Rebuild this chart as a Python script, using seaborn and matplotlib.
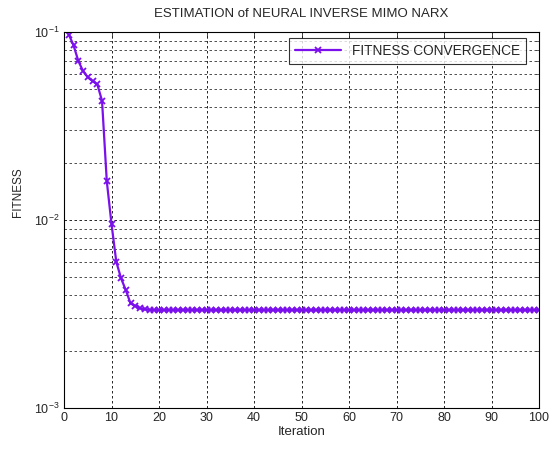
import numpy as np
import pandas as pd
import matplotlib
matplotlib.use('Agg')
import matplotlib.pyplot as plt
import seaborn as sns
from matplotlib.ticker import LogLocator, FixedLocator

sns.set_theme(style='white')
plt.rcParams['font.family'] = ['Liberation Sans', 'DejaVu Sans']
plt.rcParams['mathtext.fontset'] = 'custom'
plt.rcParams['mathtext.rm'] = 'Liberation Sans'
plt.rcParams['mathtext.it'] = 'Liberation Sans'

# fitness value per iteration
fitness = [
    0.0970, 0.0850, 0.0703, 0.0620, 0.0574, 0.0548, 0.0527, 0.0431, 0.0161, 0.0095,
    0.0060, 0.0049, 0.00424, 0.00360, 0.00349, 0.00339, 0.00335, 0.00333, 0.00332, 0.00332,
    0.00332, 0.00332, 0.00332, 0.00332, 0.00332, 0.00332, 0.00332, 0.00332, 0.00332, 0.00332,
    0.00332, 0.00332, 0.00332, 0.00332, 0.00332, 0.00332, 0.00332, 0.00332, 0.00332, 0.00332,
    0.00332, 0.00332, 0.00332, 0.00332, 0.00332, 0.00332, 0.00332, 0.00332, 0.00332, 0.00332,
    0.00332, 0.00332, 0.00332, 0.00332, 0.00332, 0.00332, 0.00332, 0.00332, 0.00332, 0.00332,
    0.00332, 0.00332, 0.00332, 0.00332, 0.00332, 0.00332, 0.00332, 0.00332, 0.00332, 0.00332,
    0.00332, 0.00332, 0.00332, 0.00332, 0.00332, 0.00332, 0.00332, 0.00332, 0.00332, 0.00332,
    0.00332, 0.00332, 0.00332, 0.00332, 0.00332, 0.00332, 0.00332, 0.00332, 0.00332, 0.00332,
    0.00332, 0.00332, 0.00332, 0.00332, 0.00332, 0.00332, 0.00332, 0.00332, 0.00332, 0.00332,
]
iteration = list(range(1, len(fitness) + 1))
x_ticks = [0, 10, 20, 30, 40, 50, 60, 70, 80, 90, 100]

df = pd.DataFrame({'Iteration': iteration, 'FITNESS': fitness})

fig = plt.figure(figsize=(5.52, 4.49), dpi=100)
ax = fig.add_axes([0.116, 0.0913, 0.8605, 0.8374])

line_color = '#7b10ec'
sns.lineplot(data=df, x='Iteration', y='FITNESS', ax=ax, color=line_color,
             marker='x', markersize=5, markeredgewidth=1.3,
             markeredgecolor=line_color, linewidth=1.6,
             label='FITNESS CONVERGENCE')

ax.set_yscale('log')
ax.set_xlim(0, 100)
ax.set_ylim(1e-3, 1e-1)
ax.xaxis.set_major_locator(FixedLocator(x_ticks))
ax.yaxis.set_major_locator(LogLocator(base=10, numticks=5))
ax.yaxis.set_minor_locator(LogLocator(base=10, subs=np.arange(2, 10), numticks=20))
ax.set_axisbelow(True)

ax.grid(True, which='major', color='black', linestyle=(0, (3, 3)), linewidth=0.6)
ax.grid(True, which='minor', axis='y', color='#333333', linestyle=(0, (3, 3)), linewidth=0.6)

ax.tick_params(which='both', direction='in', top=True, right=True, labelsize=9, pad=3)
ax.tick_params(which='major', length=4, width=0.6)
ax.tick_params(which='minor', length=2, width=0.5)
for s in ax.spines.values():
    s.set_color('black')
    s.set_linewidth(0.8)

ax.set_xlabel('Iteration', fontsize=9.5, labelpad=1)
ax.set_ylabel('FITNESS', fontsize=8.5, labelpad=10)
ax.yaxis.set_label_coords(-0.085, 0.575)
ax.set_title('ESTIMATION of NEURAL INVERSE MIMO NARX', fontsize=9.5, pad=11)

leg = ax.legend(loc='upper right', bbox_to_anchor=(0.973, 0.984), borderaxespad=0,
                fontsize=9.8, frameon=True, fancybox=False,
                handlelength=3.4, borderpad=0.45)
leg.get_frame().set_edgecolor('black')
leg.get_frame().set_linewidth(0.8)

fig.savefig('out.png', dpi=100)
